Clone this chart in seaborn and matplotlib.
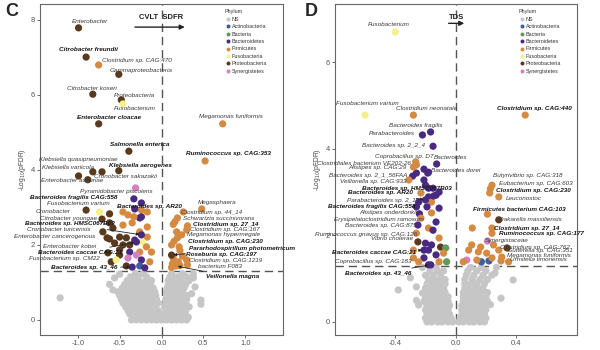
import matplotlib
matplotlib.use("Agg")
import matplotlib.pyplot as plt
import pandas as pd
import seaborn as sns

sns.set_theme(style="ticks")
plt.rcParams['font.family'] = ['Liberation Sans', 'DejaVu Sans']

# ---------------- legend / colours ----------------
phyla = ["NS", "Actinobacteria", "Bacteria", "Bacteroidetes", "Firmicutes",
         "Fusobacteria", "Proteobacteria", "Synergistetes"]
phylum_colors = ["#c6c6c6", "#3d5d9c", "#5e9c5a", "#4a2a80", "#d58a42",
                 "#f4f08c", "#5a3a1e", "#d77fc4"]

# ---------------- panel C data ----------------
c_taxa = ["Enterobacter", "Citrobacter freundii", "Clostridium sp. CAG:470", "Gammaproteobacteria",
          "Citrobacter koseri", "Proteobacteria", "Fusobacterium", "Enterobacter cloacae",
          "Megamonas funiformis", "Salmonella enterica", "Ruminococcus sp. CAG:353",
          "Klebsiella quasipneumoniae", "Klebsiella variicola", "Enterobacter asburiae",
          "Cronobacter sakazakii", "Klebsiella aerogenes", "Pyramidobacter piscolens",
          "Bacteroides fragilis CAG:558", "Fusobacterium varium", "Bacteroides sp. AR20",
          "Cronobacter", "Citrobacter youngae", "Bacteroides sp. HMSC067B03",
          "Cronobacter turicensis", "Enterobacter cancerogenous", "Enterobacter kobei",
          "Bacteroides caccae CAG:21", "Fusobacterium sp. CM22", "Bacteroides sp. 43_46",
          "Megasphaera", "Clostridium sp. 44_14", "Schwartzia succinivorans",
          "Clostridium sp. 27_14", "Clostridium sp. CAG:167", "Megamonas hypermegale",
          "Clostridium sp. CAG:230", "Pararhodospirillum photometricum", "Roseburia sp. CAG:197",
          "Clostridium sp. CAG:1219", "bacterium F083", "Veillonella magna"]
c_fc = [-0.99, -0.90, -0.75, -0.51, -0.82, -0.48, -0.46, -0.75, 0.73, -0.39, 0.52,
        -0.99, -0.88, -0.82, -0.71, -0.51, -0.31, -0.33, -0.74, -0.32, -0.90, -0.71,
        -0.24, -0.70, -0.65, -0.64, -0.30, -0.54, -0.35,
        0.48, 0.26, 0.19, 0.31, 0.30, 0.24, 0.19, 0.12, 0.21, 0.14, 0.31, 0.17]
c_logp = [7.79, 7.01, 6.80, 6.55, 6.02, 5.87, 5.76, 5.23, 5.23, 4.50, 4.24,
          3.84, 3.74, 3.95, 3.95, 3.98, 3.52, 3.23, 2.88, 2.96, 2.93, 2.69,
          2.27, 2.35, 2.19, 1.79, 2.08, 1.60, 1.41,
          2.96, 2.88, 2.72, 2.51, 2.40, 2.27, 2.19, 1.73, 1.95, 1.52, 1.47, 1.44]
c_phylum = ["Proteobacteria", "Proteobacteria", "Firmicutes", "Proteobacteria",
            "Proteobacteria", "Proteobacteria", "Fusobacteria", "Proteobacteria",
            "Firmicutes", "Proteobacteria", "Firmicutes",
            "Proteobacteria", "Proteobacteria", "Proteobacteria", "Proteobacteria",
            "Proteobacteria", "Synergistetes", "Bacteroidetes", "Fusobacteria",
            "Bacteroidetes", "Proteobacteria", "Proteobacteria", "Bacteroidetes",
            "Proteobacteria", "Proteobacteria", "Proteobacteria", "Bacteroidetes",
            "Fusobacteria", "Bacteroidetes",
            "Firmicutes", "Firmicutes", "Firmicutes", "Firmicutes", "Firmicutes",
            "Firmicutes", "Firmicutes", "Proteobacteria", "Firmicutes", "Firmicutes",
            "Firmicutes", "Firmicutes"]

# unlabeled significant taxa, panel C
c_other_fc = [-0.62, -0.46, -0.40, -0.24, -0.17, -0.26, -0.62, -0.46, -0.35, -0.58, -0.17,
              -0.26, -0.50, -0.42, -0.62, -0.32, -0.17, -0.23, -0.56, -0.46, -0.38, -0.18,
              -0.50, -0.38, -0.26, -0.12, -0.50, -0.30, -0.24, -0.40, -0.26, -0.42, -0.20,
              -0.14, -0.60, -0.24, -0.24, -0.33,
              0.14, 0.18, 0.15, 0.12, 0.22, 0.14, 0.20, 0.13, 0.22, 0.30, 0.12, 0.25, 0.16]
c_other_logp = [2.83, 2.88, 2.80, 3.12, 2.88, 2.72, 2.59, 2.53, 2.59, 2.45, 2.48,
                2.35, 2.21, 2.19, 2.16, 2.13, 2.21, 2.08, 2.05, 2.00, 2.00, 1.95,
                1.87, 1.81, 1.81, 1.81, 1.73, 1.73, 1.60, 1.65, 1.44, 1.44, 1.39,
                1.55, 1.55, 2.93, 2.75, 2.75,
                2.55, 2.35, 2.10, 2.00, 1.85, 1.65, 1.55, 1.50, 1.45, 1.60, 1.40, 1.70, 2.62]
c_other_phylum = ["Proteobacteria", "Firmicutes", "Firmicutes", "Bacteroidetes", "Firmicutes",
                  "Bacteroidetes", "Proteobacteria", "Firmicutes", "Firmicutes", "Proteobacteria",
                  "Firmicutes", "Firmicutes", "Proteobacteria", "Proteobacteria", "Proteobacteria",
                  "Bacteroidetes", "Firmicutes", "Fusobacteria", "Proteobacteria", "Proteobacteria",
                  "Proteobacteria", "Firmicutes", "Proteobacteria", "Bacteroidetes", "Firmicutes",
                  "Firmicutes", "Proteobacteria", "Synergistetes", "Bacteroidetes", "Synergistetes",
                  "Actinobacteria", "Proteobacteria", "Bacteroidetes", "Firmicutes", "Proteobacteria",
                  "Firmicutes", "Bacteroidetes", "Firmicutes",
                  "Firmicutes", "Firmicutes", "Firmicutes", "Firmicutes", "Firmicutes", "Firmicutes",
                  "Firmicutes", "Firmicutes", "Firmicutes", "Firmicutes", "Firmicutes", "Firmicutes",
                  "Firmicutes"]

# non-significant taxa, panel C
c_ns_fc = [-0.36, -0.30, -0.24, -0.18, -0.12, -0.06, 0.00, 0.06, 0.12, 0.18, 0.24, 0.30,
           -0.33, -0.27, -0.21, -0.15, -0.09, -0.03, 0.03, 0.09, 0.15, 0.21, 0.27, 0.32,
           -0.38, -0.32, -0.26, -0.20, -0.14, -0.08, -0.02, 0.04, 0.10, 0.16, 0.22, 0.28,
           -0.40, -0.34, -0.28, -0.22, -0.16, -0.10, -0.04, 0.05, 0.11, 0.17, 0.23, 0.29,
           -0.43, -0.37, -0.31, -0.25, -0.19, -0.13, -0.07, 0.04, 0.10, 0.16, 0.22, 0.28, 0.33,
           -0.46, -0.40, -0.34, -0.28, -0.22, -0.16, -0.10, -0.04, 0.05, 0.11, 0.17, 0.23, 0.29,
           -0.48, -0.42, -0.36, -0.30, -0.24, -0.18, -0.12, -0.06, 0.05, 0.11, 0.17, 0.23, 0.30,
           -0.50, -0.44, -0.38, -0.32, -0.26, -0.20, -0.14, -0.07, 0.06, 0.12, 0.18, 0.24, 0.31,
           -0.52, -0.45, -0.39, -0.33, -0.27, -0.21, -0.15, -0.08, 0.06, 0.12, 0.18, 0.25,
           -0.47, -0.41, -0.35, -0.29, -0.23, -0.17, -0.10, 0.07, 0.13, 0.19, 0.27,
           -0.44, -0.38, -0.32, -0.26, -0.20, -0.13, 0.08, 0.14, 0.21, 0.29,
           -0.41, -0.34, -0.27, -0.19, -0.12, 0.08, 0.16, 0.24, 0.33,
           -0.37, -0.28, -0.18, 0.10, 0.19, 0.30,
           -0.31, -0.22, 0.12, 0.25, 0.38,
           -1.21, 0.47, 0.47, -0.62, -0.56, 0.40, 0.38, -0.50, 0.36, -0.58]
c_ns_logp = [0.00] * 12 + [0.07] * 12 + [0.16] * 12 + [0.25] * 12 + [0.35] * 13 + \
            [0.45] * 13 + [0.55] * 13 + [0.65] * 13 + [0.75] * 12 + [0.85] * 11 + \
            [0.95] * 10 + [1.05] * 9 + [1.15] * 6 + [1.23] * 5 + \
            [0.59, 0.53, 0.42, 0.95, 1.12, 0.88, 1.12, 1.22, 0.70, 0.80]

# ---------------- panel D data ----------------
d_taxa = ["Fusobacterium", "Fusobacterium varium", "Clostridium neonatale", "Clostridium sp. CAG:440",
          "Bacteroides fragilis", "Parabacteroides", "Bacteroides sp. 2_2_4", "Coprobacillus sp. D7",
          "Bacteroides", "Clostridiales bacterium VE202-26", "Alistipes sp. CAG:29",
          "Bacteroides dorei", "Bacteroides sp. 2_1_56FAA", "Veillonella sp. CAG:933",
          "Bacteroides sp. HMSC067B03", "Bacteroides sp. AR20", "Parabacteroides sp. 2_1_7",
          "Bacteroides fragilis CAG:558", "Alistipes onderdonkii", "Erysipelatoclostridium ramosum",
          "Bacteroides sp. CAG:875", "Ruminococcus gnavus sp. CAG:126", "Vibrio cholerae",
          "Bacteroides caccae CAG:21", "Coprobacillus sp. CAG:183", "Bacteroides sp. 43_46",
          "Butyrivibrio sp. CAG:318", "Eubacterium sp. CAG:603", "Clostridium sp. CAG:230",
          "Leuconostoc", "Firmicutes bacterium CAG:103", "Dakarella massiliensis",
          "Clostridium sp. 27_14", "Ruminococcus sp. CAG:177", "Synergistaceae",
          "Clostridium sp. CAG:762", "Sutterella sp. CAG:351", "Megamonas funiformis",
          "Urmitella timonensis"]
d_fc = [-0.40, -0.60, -0.28, 0.46, -0.166, -0.22, -0.15, -0.265, -0.126, -0.28, -0.21,
        -0.185, -0.285, -0.31, -0.146, -0.20, -0.245, -0.26, -0.24, -0.23, -0.25, -0.26,
        -0.25, -0.21, -0.28, -0.165,
        0.24, 0.23, 0.225, 0.285, 0.21, 0.285, 0.24, 0.24, 0.21, 0.285, 0.34, 0.305, 0.30]
d_logp = [6.70, 4.78, 4.78, 4.78, 4.39, 4.32, 4.06, 3.70, 3.65, 3.58, 3.53,
          3.44, 3.37, 3.28, 2.91, 2.82, 2.77, 2.66, 2.50, 2.40, 2.24, 2.05,
          1.85, 1.66, 1.48, 1.32,
          3.16, 3.08, 2.98, 2.89, 2.49, 2.36, 2.17, 2.05, 1.87, 1.66, 1.71, 1.50, 1.41]
d_phylum = ["Fusobacteria", "Fusobacteria", "Firmicutes", "Firmicutes", "Bacteroidetes",
            "Bacteroidetes", "Bacteroidetes", "Firmicutes", "Bacteroidetes", "Firmicutes",
            "Bacteroidetes", "Bacteroidetes", "Bacteroidetes", "Firmicutes", "Bacteroidetes",
            "Bacteroidetes", "Bacteroidetes", "Bacteroidetes", "Bacteroidetes", "Firmicutes",
            "Bacteroidetes", "Firmicutes", "Proteobacteria", "Bacteroidetes", "Firmicutes",
            "Bacteroidetes",
            "Firmicutes", "Firmicutes", "Firmicutes", "Firmicutes", "Firmicutes",
            "Proteobacteria", "Firmicutes", "Firmicutes", "Synergistetes", "Firmicutes",
            "Proteobacteria", "Firmicutes", "Firmicutes"]

d_other_fc = [-0.26, -0.18, -0.26, -0.21, -0.20, -0.18, -0.15, -0.11, -0.23, -0.18, -0.13,
              -0.16, -0.19, -0.11, -0.16, -0.13, -0.18, -0.15, -0.11, -0.20, -0.16, -0.10,
              -0.066, -0.08, -0.18, -0.28, -0.13, -0.21, -0.11, -0.18, -0.06, -0.245,
              0.11, 0.106, 0.15, 0.205, 0.165, 0.073, 0.17, 0.14, 0.22, 0.24, 0.086, 0.25,
              0.05, 0.35]
d_other_logp = [3.63, 3.46, 3.44, 3.28, 3.16, 3.09, 3.09, 3.00, 2.98, 2.89, 2.93,
                2.77, 2.66, 2.63, 2.52, 2.31, 2.17, 2.12, 1.94, 1.82, 1.78, 1.73,
                1.71, 1.59, 1.66, 1.66, 1.55, 1.48, 1.39, 1.32, 1.39, 1.39,
                2.17, 1.78, 1.62, 1.59, 1.73, 1.43, 1.39, 1.43, 1.41, 1.48, 1.66, 1.78,
                1.39, 1.39]
d_other_phylum = ["Firmicutes", "Bacteroidetes", "Bacteroidetes", "Bacteroidetes", "Bacteroidetes",
                  "Bacteroidetes", "Bacteroidetes", "Bacteroidetes", "Firmicutes", "Bacteroidetes",
                  "Bacteroidetes", "Firmicutes", "Bacteroidetes", "Bacteroidetes", "Firmicutes",
                  "Bacteroidetes", "Firmicutes", "Bacteroidetes", "Firmicutes", "Bacteroidetes",
                  "Bacteroidetes", "Proteobacteria", "Bacteria", "Firmicutes", "Bacteroidetes",
                  "Firmicutes", "Bacteroidetes", "Bacteroidetes", "Firmicutes", "Bacteroidetes",
                  "Bacteria", "Firmicutes",
                  "Firmicutes", "Firmicutes", "Firmicutes", "Firmicutes", "Firmicutes",
                  "Synergistetes", "Actinobacteria", "Firmicutes", "Actinobacteria", "Firmicutes",
                  "Firmicutes", "Firmicutes", "Firmicutes", "Firmicutes"]

d_ns_fc = [-0.19, -0.16, -0.12, -0.09, -0.05, -0.02, 0.02, 0.05, 0.09, 0.12, 0.16, 0.19,
           -0.20, -0.17, -0.13, -0.10, -0.06, -0.03, 0.03, 0.06, 0.10, 0.13, 0.17, 0.20,
           -0.19, -0.15, -0.12, -0.08, -0.04, 0.04, 0.07, 0.11, 0.15, 0.19,
           -0.20, -0.16, -0.13, -0.09, -0.05, 0.04, 0.08, 0.12, 0.16, 0.20,
           -0.19, -0.15, -0.11, -0.07, -0.04, 0.04, 0.07, 0.11, 0.15, 0.19,
           -0.21, -0.17, -0.13, -0.09, -0.05, 0.05, 0.09, 0.13, 0.17, 0.21,
           -0.20, -0.16, -0.12, -0.08, -0.05, 0.05, 0.08, 0.12, 0.16, 0.20,
           -0.19, -0.15, -0.11, -0.07, 0.05, 0.09, 0.13, 0.17, 0.21,
           -0.20, -0.16, -0.12, -0.08, 0.06, 0.10, 0.14, 0.18,
           -0.19, -0.15, -0.11, -0.07, 0.06, 0.10, 0.14, 0.19,
           -0.18, -0.14, -0.10, -0.07, 0.06, 0.11, 0.16, 0.21,
           -0.20, -0.15, -0.10, 0.07, 0.12, 0.18, 0.24,
           -0.17, -0.12, -0.08, 0.08, 0.14, 0.20,
           -0.22, -0.13, 0.10, 0.17, 0.27,
           -0.38, -0.26, -0.245, -0.22, -0.26, 0.30, 0.38, 0.26, -0.30, 0.23]
d_ns_logp = [0.00] * 12 + [0.09] * 12 + [0.18] * 10 + [0.28] * 10 + [0.38] * 10 + \
            [0.48] * 10 + [0.58] * 10 + [0.68] * 9 + [0.78] * 8 + [0.88] * 8 + \
            [0.98] * 8 + [1.08] * 7 + [1.18] * 6 + [1.26] * 5 + \
            [0.74, 0.50, 0.39, 0.67, 0.81, 0.55, 0.97, 1.13, 1.02, 0.40]

fdr_cut = 1.3

# ---------------- label layout (pixel offsets, bold, arrow) ----------------
c_label_layout = {
    "Enterobacter": (11, 6, False, False), "Citrobacter freundii": (2, 8, True, False),
    "Clostridium sp. CAG:470": (38, 4, False, False), "Gammaproteobacteria": (22, 4, False, False),
    "Citrobacter koseri": (-1, 6, False, False), "Proteobacteria": (13, 4, False, False),
    "Fusobacterium": (12, -5, False, False), "Enterobacter cloacae": (10, 6, True, False),
    "Megamonas funiformis": (8, 7, False, False), "Salmonella enterica": (11, 7, True, False),
    "Ruminococcus sp. CAG:353": (23, 7, True, False),
    "Klebsiella quasipneumoniae": (0, 16, False, False), "Klebsiella variicola": (-20, 12, False, False),
    "Enterobacter asburiae": (-21, -9, False, False), "Cronobacter sakazakii": (23, -5, False, False),
    "Klebsiella aerogenes": (22, 5, True, False), "Pyramidobacter piscolens": (-19, -4, False, False),
    "Bacteroides fragilis CAG:558": (-60, 1, True, False), "Fusobacterium varium": (-21, 8, False, False),
    "Bacteroides sp. AR20": (15, 2, True, False), "Cronobacter": (-33, -1, False, False),
    "Citrobacter youngae": (-34, 1, False, False), "Bacteroides sp. HMSC067B03": (-72, 11, True, True),
    "Cronobacter turicensis": (-44, 2, False, False), "Enterobacter cancerogenous": (-52, 1, False, False),
    "Enterobacter kobei": (-38, 6, False, False), "Bacteroides caccae CAG:21": (-56, -11, True, True),
    "Fusobacterium sp. CM22": (-52, 1, False, False), "Bacteroides sp. 43_46": (-48, 0, True, True),
    "Megasphaera": (15, 6, False, False), "Clostridium sp. 44_14": (28, -1, False, False),
    "Schwartzia succinivorans": (41, -1, False, False), "Clostridium sp. 27_14": (38, 1, True, False),
    "Clostridium sp. CAG:167": (38, 0, False, False), "Megamonas hypermegale": (42, 0, False, False),
    "Clostridium sp. CAG:230": (48, -4, True, False),
    "Pararhodospirillum photometricum": (70, 7, True, True), "Roseburia sp. CAG:197": (42, -8, True, False),
    "Clostridium sp. CAG:1219": (52, 2, False, False), "bacterium F083": (32, -2, False, False),
    "Veillonella magna": (57, -11, True, True),
}
d_label_layout = {
    "Fusobacterium": (-7, 7, False, False), "Fusobacterium varium": (2, 12, False, False),
    "Clostridium neonatale": (13, 7, False, False), "Clostridium sp. CAG:440": (9, 7, True, False),
    "Bacteroides fragilis": (-15, 6, False, False), "Parabacteroides": (-31, 1, False, False),
    "Bacteroides sp. 2_2_4": (-40, 1, False, False), "Coprobacillus sp. D7": (-11, 5, False, False),
    "Bacteroides": (14, 6, False, False), "Clostridiales bacterium VE202-26": (-49, 4, False, False),
    "Alistipes sp. CAG:29": (-47, 2, False, False), "Bacteroides dorei": (28, 3, False, False),
    "Bacteroides sp. 2_1_56FAA": (-44, 1, False, False), "Veillonella sp. CAG:933": (-36, -1, False, False),
    "Bacteroides sp. HMSC067B03": (-27, 8, True, False), "Bacteroides sp. AR20": (-45, 7, True, True),
    "Parabacteroides sp. 2_1_7": (-34, 2, False, False), "Bacteroides fragilis CAG:558": (-45, 0, True, False),
    "Alistipes onderdonkii": (-31, 1, False, False), "Erysipelatoclostridium ramosum": (-42, -1, False, False),
    "Bacteroides sp. CAG:875": (-37, 0, False, False), "Ruminococcus gnavus sp. CAG:126": (-50, -1, False, False),
    "Vibrio cholerae": (-26, 3, False, False), "Bacteroides caccae CAG:21": (-50, -2, True, True),
    "Coprobacillus sp. CAG:183": (-40, -4, False, False), "Bacteroides sp. 43_46": (-53, -9, True, True),
    "Butyrivibrio sp. CAG:318": (36, 10, False, False), "Eubacterium sp. CAG:603": (45, 5, False, False),
    "Clostridium sp. CAG:230": (44, 2, True, False), "Leuconostoc": (25, -2, False, False),
    "Firmicutes bacterium CAG:103": (32, 5, True, False), "Dakarella massiliensis": (32, 0, False, False),
    "Clostridium sp. 27_14": (35, 0, True, False), "Ruminococcus sp. CAG:177": (49, 0, True, False),
    "Synergistaceae": (19, 1, False, False), "Clostridium sp. CAG:762": (36, 3, False, False),
    "Sutterella sp. CAG:351": (33, -3, False, False), "Megamonas funiformis": (37, 2, False, False),
    "Urmitella timonensis": (37, 1, False, False),
}


def make_frame(ns_fc, ns_logp, o_fc, o_logp, o_ph, taxa, fc, logp, ph):
    parts = [
        pd.DataFrame({"taxon": "", "logFC": ns_fc, "logp": ns_logp, "Phylum": "NS"}),
        pd.DataFrame({"taxon": "", "logFC": o_fc, "logp": o_logp, "Phylum": o_ph}),
        pd.DataFrame({"taxon": taxa, "logFC": fc, "logp": logp, "Phylum": ph}),
    ]
    return pd.concat(parts, ignore_index=True)


palette = dict(zip(phyla, phylum_colors))

fig = plt.figure(figsize=(6, 3.5), dpi=100)
axC = fig.add_axes([0.0667, 0.043, 0.405, 0.946])
axD = fig.add_axes([0.558, 0.043, 0.403, 0.946])

panels = [
    (axC, make_frame(c_ns_fc, c_ns_logp, c_other_fc, c_other_logp, c_other_phylum,
                     c_taxa, c_fc, c_logp, c_phylum), c_label_layout,
     (-1.45, 1.45), (-0.4, 8.43), [-1.0, -0.5, 0.0, 0.5, 1.0], [0, 2, 4, 6, 8]),
    (axD, make_frame(d_ns_fc, d_ns_logp, d_other_fc, d_other_logp, d_other_phylum,
                     d_taxa, d_fc, d_logp, d_phylum), d_label_layout,
     (-0.8, 0.8), (-0.3, 7.35), [-0.4, 0.0, 0.4], [0, 2, 4, 6]),
]

for ax, df, layout, xl, yl, xt, yt in panels:
    sns.scatterplot(data=df, x="logFC", y="logp", hue="Phylum", hue_order=phyla,
                    palette=palette, s=27, linewidth=0, ax=ax, zorder=3)
    ax.axvline(0, color="#555555", lw=1.0, ls=(0, (6, 3.5)), zorder=2)
    ax.axhline(fdr_cut, color="#555555", lw=1.0, ls=(0, (6, 3.5)), zorder=2)
    ax.set_xlim(*xl)
    ax.set_ylim(*yl)
    ax.set_xticks(xt)
    ax.set_xticklabels([f"{v:.1f}" for v in xt])
    ax.set_yticks(yt)
    ax.set_xlabel("")
    ax.set_ylabel(r"-Log$_{10}$(pFDR)", fontsize=4.8, color="#444444", labelpad=2)
    ax.tick_params(labelsize=5.5, length=2, width=0.6, pad=1.5, colors="#555555")
    for sp in ax.spines.values():
        sp.set_color("#666666")
        sp.set_linewidth(0.8)
    leg = ax.legend(title="Phylum", loc="upper left", bbox_to_anchor=(0.745, 0.995),
                    frameon=False, fontsize=3.9, title_fontsize=3.9, markerscale=0.55,
                    handletextpad=0.1, labelspacing=0.45, borderpad=0.2, handlelength=1.2)
    leg._legend_box.align = "left"
    for t in leg.get_texts():
        t.set_color("#333333")
    leg.get_title().set_color("#333333")

    for _, row in df[df["taxon"] != ""].iterrows():
        dx, dy, bold, arrow = layout[row["taxon"]]
        kw = dict(xy=(row["logFC"], row["logp"]), xytext=(dx, dy), textcoords="offset pixels",
                  ha="center", va="center", fontsize=4.6, style="italic",
                  weight="bold" if bold else "normal",
                  color="#151515" if bold else "#3a3a3a", zorder=5, annotation_clip=False)
        if arrow:
            kw["arrowprops"] = dict(arrowstyle="-|>", lw=0.6, color="#222222",
                                    mutation_scale=4, shrinkA=0, shrinkB=1.5)
        ax.annotate(row["taxon"], **kw)

# direction arrows
axC.annotate("", xy=(0.31, 7.81), xytext=(-0.35, 7.81),
             arrowprops=dict(arrowstyle="-|>", lw=1.0, color="#222222", mutation_scale=7))
axC.text(0.0, 7.98, "CVLT  SDFR", ha="center", va="bottom", fontsize=5.5, weight="bold",
         color="#222222")
axD.annotate("", xy=(0.075, 6.9), xytext=(-0.065, 6.9),
             arrowprops=dict(arrowstyle="-|>", lw=1.0, color="#222222", mutation_scale=7))
axD.text(0.005, 6.95, "TDS", ha="center", va="bottom", fontsize=5.5, weight="bold",
         color="#222222")

fig.text(0.008, 0.99, "C", fontsize=13, weight="bold", va="top", ha="left")
fig.text(0.508, 0.99, "D", fontsize=13, weight="bold", va="top", ha="left")

fig.savefig("out.png", dpi=100)
